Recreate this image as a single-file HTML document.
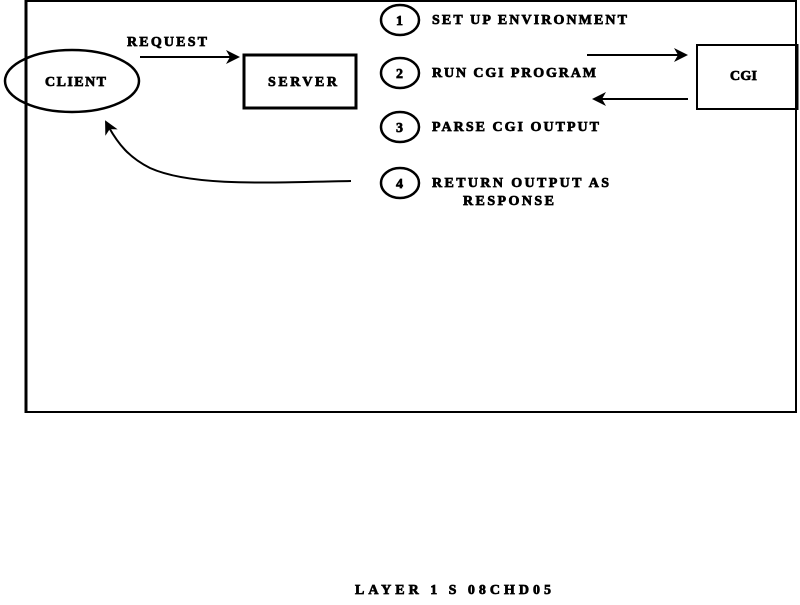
<!DOCTYPE html>
<html><head><style>
body{margin:0;background:#fff;}
svg text{font-family:"Liberation Serif",serif;font-weight:bold;font-size:14px;fill:#000;stroke:#000;stroke-width:0.7px;}
</style></head><body>
<svg width="800" height="600" viewBox="0 0 800 600" xmlns="http://www.w3.org/2000/svg">
<defs>
<marker id="b" markerWidth="14" markerHeight="14" refX="12" refY="7" orient="auto" markerUnits="userSpaceOnUse"><path d="M0,0 L14,7 L0,14 L4,7 Z" fill="#000"/></marker></defs>
<rect x="26" y="1" width="770" height="411" fill="none" stroke="#000" stroke-width="2"/>
<line x1="26" y1="0" x2="26" y2="413" stroke="#000" stroke-width="3"/>
<line x1="797" y1="44" x2="797" y2="110" stroke="#000" stroke-width="3"/>
<ellipse cx="72" cy="81" rx="67" ry="31" fill="none" stroke="#000" stroke-width="2.5"/>
<text x="45" y="86" textLength="61" lengthAdjust="spacing">CLIENT</text>
<rect x="244" y="55" width="112" height="53" fill="none" stroke="#000" stroke-width="3"/>
<text x="268" y="86" textLength="69" lengthAdjust="spacing">SERVER</text>
<rect x="697" y="45" width="100" height="64" fill="none" stroke="#000" stroke-width="2"/>
<text x="730" y="80" textLength="27" lengthAdjust="spacing">CGI</text>
<text x="127" y="46" textLength="80" lengthAdjust="spacing">REQUEST</text>
<line x1="140" y1="57" x2="238" y2="57" stroke="#000" stroke-width="2" marker-end="url(#b)"/>
<line x1="587" y1="55" x2="686" y2="55" stroke="#000" stroke-width="2" marker-end="url(#b)"/>
<line x1="688" y1="99" x2="594" y2="99" stroke="#000" stroke-width="2" marker-end="url(#b)"/>
<path d="M351,181 C260,183 190,186 150,168 C130,158 118,145 106,122" fill="none" stroke="#000" stroke-width="2" marker-end="url(#b)"/>
<g fill="none" stroke="#000" stroke-width="2.5">
<ellipse cx="400" cy="20" rx="19" ry="15"/>
<ellipse cx="400" cy="73" rx="19" ry="15"/>
<ellipse cx="400" cy="127" rx="19" ry="15"/>
<ellipse cx="400" cy="183" rx="19" ry="15"/>
</g>
<text x="396" y="25">1</text>
<text x="396" y="78">2</text>
<text x="396" y="132">3</text>
<text x="396" y="188">4</text>
<text x="432" y="24" textLength="195" lengthAdjust="spacing">SET UP ENVIRONMENT</text>
<text x="432" y="77" textLength="164" lengthAdjust="spacing">RUN CGI PROGRAM</text>
<text x="432" y="131" textLength="167" lengthAdjust="spacing">PARSE CGI OUTPUT</text>
<text x="432" y="187" textLength="177" lengthAdjust="spacing">RETURN OUTPUT AS</text>
<text x="463" y="205" textLength="91" lengthAdjust="spacing">RESPONSE</text>
<text x="355" y="594" textLength="196" lengthAdjust="spacing">LAYER 1  S  08CHD05</text>
</svg>
</body></html>
